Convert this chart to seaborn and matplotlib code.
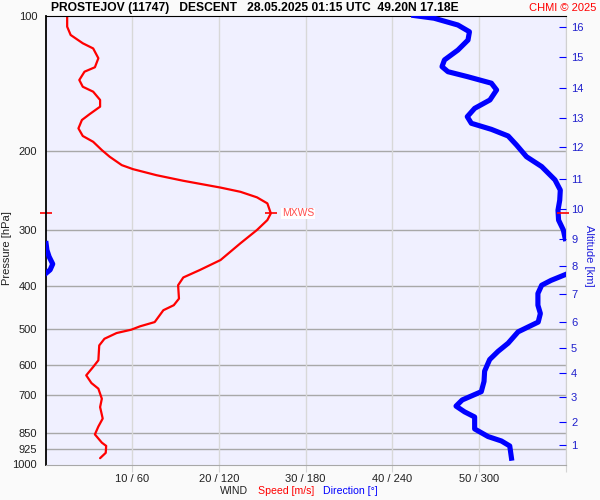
import numpy as np
import pandas as pd
import matplotlib
matplotlib.use("Agg")
import matplotlib.pyplot as plt
from matplotlib.ticker import NullLocator
import seaborn as sns

# wind profile (pressure in hPa)
speed_pressure = [100, 105.9, 110.5, 115.3, 118.4, 124.5, 130.4, 133.4, 139.2, 144.1,
                  147.8, 154.2, 159.6, 165.8, 170.9, 178.4, 185.5, 191.1, 199.4, 206.3,
                  215.4, 219.9, 226.8, 233.4, 241.7, 247.0, 254.1, 262.1, 275.9, 285.5,
                  300.4, 321.5, 350.4, 368.9, 383.2, 398.8, 427.2, 441.8, 453.3, 481.7,
                  492.4, 500.9, 509.6, 524.8, 543.0, 586, 606.4, 633, 658.6, 677.8,
                  713.7, 745, 790, 823, 857, 894, 909, 942, 968]
speed_ms = [2.5, 2.5, 2.9, 4.3, 5.5, 6.1, 5.7, 4.5, 3.9, 4.3,
            5.5, 6.3, 6.3, 5.1, 4.2, 3.8, 4.3, 5.5, 6.5, 7.4,
            8.8, 10.1, 12.8, 15.9, 20.2, 22.5, 24.4, 25.6, 26.0, 25.6,
            24.4, 22.5, 20.2, 17.8, 15.9, 15.3, 15.4, 14.8, 13.6, 12.6,
            10.9, 9.9, 8.2, 6.8, 6.2, 6.1, 5.5, 4.7, 5.3, 6.1,
            6.5, 6.3, 6.6, 6.1, 5.7, 6.5, 7.0, 6.95, 6.3]

dir_pressure = [100, 101.4, 105, 108.7, 113.4, 119.4, 125.6, 130.0, 133.4, 136.9,
                141.5, 146.5, 154.2, 161, 168, 173.8, 179.3, 185.5, 194.3, 206.3,
                217.0, 232.3, 244.8, 257.9, 271.4, 285.5, 300.4, 314, 322, 333,
                344.5, 357.6, 368.5, 375, 378, 389, 398.8, 416, 441.8, 461,
                481.7, 506.4, 536.7, 559.8, 583.8, 619.5, 653, 688.3, 718.2, 741.2,
                763.3, 783.7, 833.3, 866.5, 886.3, 909.3, 968]
# unwrapped degrees, anything past 360 shows up again at the left edge
dir_deg = [255, 269, 285.5, 293.5, 292.5, 285.5, 276.2, 274.5, 278.6, 292.4,
           308.7, 312.3, 307.7, 297.1, 292.0, 294.8, 308.7, 320.3, 326.1, 333.0,
           343.5, 352.7, 356.4, 356.0, 354.8, 355.2, 358.5, 359.8, 360.4, 361.0,
           362.5, 365.0, 363.2, 360.4, 359.5, 350, 343.5, 340.9, 340.9, 342.6,
           341.1, 327.2, 320.3, 313.3, 307.5, 304.0, 303.6, 301.7, 288.5, 284.2,
           290.1, 297.1, 297.1, 306.4, 315.6, 321.4, 322.6]

pressure_levels = [100, 200, 300, 400, 500, 600, 700, 850, 925, 1000]
grid_levels = [200, 300, 400, 500, 600, 700, 850, 925]
altitude_km = list(range(1, 17))
altitude_pressure = [903, 803, 708, 625, 550, 481, 418, 362, 314, 270,
                     231, 196, 169, 145, 124, 106]
speed_ticks = [10, 20, 30, 40, 50, 60]
wind_tick_labels = ["10 / 60", "20 / 120", "30 / 180", "40 / 240", "50 / 300", ""]
max_wind_pressure = 276
max_wind_speed = 26.0

title = "PROSTEJOV (11747)   DESCENT   28.05.2025 01:15 UTC  49.20N 17.18E"

plt.rcParams['font.family'] = ['Liberation Sans', 'DejaVu Sans']

df_speed = pd.DataFrame({"pressure": speed_pressure, "speed": speed_ms})
wrapped = np.mod(dir_deg, 360)
segment = np.concatenate([[0], np.cumsum(np.abs(np.diff(wrapped)) > 180)])
df_dir = pd.DataFrame({"pressure": dir_pressure, "direction": wrapped, "segment": segment})

fig = plt.figure(figsize=(6, 5), dpi=100, facecolor="#FAFAFA")
ax = fig.add_axes([45.5 / 600, 1 - 464.5 / 500, 520 / 600, 449 / 500])
ax.set_facecolor("#F0F0FF")
ax.set_yscale("log")
ax.set_ylim(1000, 100)
ax.set_xlim(0, 60)

sns.lineplot(data=df_speed, x="speed", y="pressure", sort=False, estimator=None,
             color="#FF0000", lw=1.6, ax=ax, legend=False,
             solid_joinstyle="round", solid_capstyle="round")

ax.yaxis.set_minor_locator(NullLocator())
ax.set_yticks(pressure_levels)
ax.set_yticklabels([str(p) for p in pressure_levels], fontsize=8, color="#202020")
ax.tick_params(axis="y", length=0, pad=6)
ax.set_xticks(speed_ticks)
ax.set_xticklabels(wind_tick_labels, fontsize=8, color="#202020")
ax.tick_params(axis="x", length=5, color="#D4D4D4", pad=2)
ax.set_axisbelow(True)
ax.grid(axis="x", color="#D8D8D8", lw=1)
for lev in grid_levels:
    ax.axhline(lev, color="#A8A8A8", lw=1, zorder=0.5)
ax.spines["top"].set_color("black")
ax.spines["left"].set_color("black")
ax.spines["left"].set_linewidth(1.3)
ax.spines["bottom"].set_color("#A8A8A8")
ax.spines["right"].set_color("#D0D0D0")
ax.set_xlabel("")
ax.set_ylabel("Pressure [hPa]", fontsize=8, color="#202020")
ax.yaxis.set_label_coords(-0.064, 0.483)

# direction on its own 0-360 scale
ax2 = ax.twiny()
sns.lineplot(data=df_dir, x="direction", y="pressure", units="segment", sort=False,
             estimator=None, color="#0000FF", lw=3.7, ax=ax2, legend=False,
             solid_joinstyle="round")
ax2.set_xlim(0, 360)
ax2.set_xticks([])
ax2.set_xlabel("")
for s in ax2.spines.values():
    s.set_visible(False)

# altitude scale on the right
ax3 = ax.twinx()
ax3.set_yscale("log")
ax3.set_ylim(1000, 100)
ax3.yaxis.set_minor_locator(NullLocator())
ax3.set_yticks(altitude_pressure)
ax3.set_yticklabels([str(a) for a in altitude_km], fontsize=8, color="#2020CC")
ax3.tick_params(axis="y", direction="in", length=5, color="#0000FF", pad=4)
ax3.set_ylabel("Altitude [km]", fontsize=8, color="#2020DD", rotation=270)
ax3.yaxis.set_label_coords(1.055, 0.464)
for s in ax3.spines.values():
    s.set_visible(False)

# max wind marks
ax.plot([max_wind_speed], [max_wind_pressure], marker="_", ms=9, mew=1.2, color="red")
ax.plot([0], [max_wind_pressure], marker="_", ms=9, mew=1.2, color="red", clip_on=False)
ax2.plot([358], [max_wind_pressure], marker="_", ms=9, mew=1.2, color="red", clip_on=False)
ax.annotate("MXWS", (max_wind_speed, max_wind_pressure), xytext=(8, 0),
            textcoords="offset points", va="center", ha="left", fontsize=7.5,
            color="#FF5050", bbox=dict(facecolor="white", edgecolor="none", pad=0.5))

fig.text(51 / 600, 1 - 8 / 500, title, fontsize=8.7, fontweight="bold", va="center", ha="left")
fig.text(596 / 600, 1 - 8 / 500, "CHMI © 2025", fontsize=8, color="red", va="center", ha="right")
fig.text(220 / 600, 1 - 491 / 500, "WIND", fontsize=7.6, color="#202020", va="center")
fig.text(258 / 600, 1 - 491 / 500, "Speed [m/s]", fontsize=7.6, color="red", va="center")
fig.text(323 / 600, 1 - 491 / 500, "Direction [°]", fontsize=7.6, color="blue", va="center")

fig.savefig("out.png", dpi=100, facecolor=fig.get_facecolor())
